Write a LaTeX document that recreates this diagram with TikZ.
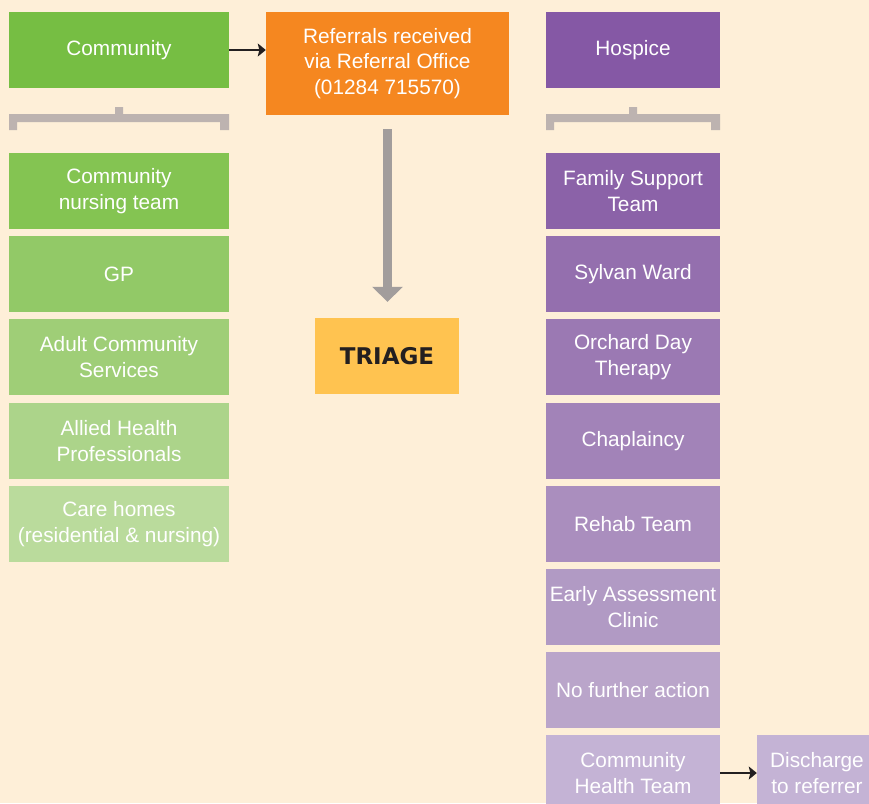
\documentclass[tikz,border=0pt]{standalone}
\usepackage{fontspec}
\setmainfont{Liberation Sans}
\newfontfamily\triagefont{DejaVu Sans}
\usetikzlibrary{arrows.meta}
\definecolor{bgc}{HTML}{FEEFD8}
\definecolor{gA}{HTML}{76BE43}
\definecolor{gB}{HTML}{84C452}
\definecolor{gC}{HTML}{92C967}
\definecolor{gD}{HTML}{9FCE77}
\definecolor{gE}{HTML}{ACD48A}
\definecolor{gF}{HTML}{BADB9C}
\definecolor{orng}{HTML}{F58720}
\definecolor{pA}{HTML}{8558A5}
\definecolor{pB}{HTML}{8B62A8}
\definecolor{pC}{HTML}{946FAE}
\definecolor{pD}{HTML}{9B79B3}
\definecolor{pE}{HTML}{A283B8}
\definecolor{pF}{HTML}{AA8EBE}
\definecolor{pG}{HTML}{B19AC4}
\definecolor{pH}{HTML}{BAA5CA}
\definecolor{pI}{HTML}{C4B3D5}
\definecolor{triyel}{HTML}{FFC350}
\definecolor{bigarrow}{HTML}{A29D9C}
\definecolor{brk}{HTML}{BDB3B0}
\definecolor{darktxt}{HTML}{231F20}
\tikzset{
  box/.style={draw=none, inner sep=0pt, align=center, text=white,
    font=\fontsize{20.8}{25.5}\selectfont},
  lbox/.style={box, minimum width=220pt, minimum height=76pt},
  rbox/.style={box, minimum width=174pt, minimum height=76pt},
  thinarrow/.style={draw=darktxt, line width=1.3pt, -{Stealth[length=8pt,width=13pt,inset=1.5pt]}},
  fatarrow/.style={draw=bigarrow, line width=8.7pt, -{Triangle[length=15pt,width=30pt]}},
  bracket/.style={fill=brk, draw=none}
}
\begin{document}
\begin{tikzpicture}[x=1pt,y=-1pt]
\clip (0,0) rectangle (869,803);
\fill[bgc] (0,0) rectangle (869,803);
% left column
\node[lbox, fill=gA] (comm) at (119,50) {Community};
\node[lbox, fill=gB] (cnt) at (119,191) {Community\\nursing team};
\node[lbox, fill=gC] (gp) at (119,274) {GP};
\node[lbox, fill=gD] (acs) at (119,357) {Adult Community\\Services};
\node[lbox, fill=gE] (ahp) at (119,441) {Allied Health\\Professionals};
\node[lbox, fill=gF] (care) at (119,524) {Care homes\\(residential \& nursing)};
% centre
\node[box, fill=orng, minimum width=243pt, minimum height=103pt] (ref) at (387.5,63.5) {Referrals received\\via Referral Office\\(01284 715570)};
\node[box, fill=triyel, minimum width=144pt, minimum height=76pt, text=darktxt,
      font=\triagefont\bfseries\fontsize{23}{27}\selectfont] (tri) at (387,356) {TRIAGE};
% right column
\node[rbox, fill=pA] (hos) at (633,50) {Hospice};
\node[rbox, fill=pB] (fst) at (633,191) {Family Support\\Team};
\node[rbox, fill=pC] (syl) at (633,274) {Sylvan Ward};
\node[rbox, fill=pD] (orc) at (633,357) {Orchard Day\\Therapy};
\node[rbox, fill=pE] (cha) at (633,441) {Chaplaincy};
\node[rbox, fill=pF] (reh) at (633,524) {Rehab Team};
\node[rbox, fill=pG] (eac) at (633,607) {Early Assessment\\Clinic};
\node[rbox, fill=pH] (nfa) at (633,690) {No further action};
\node[rbox, fill=pI] (cht) at (633,773) {Community\\Health Team};
\node[box, fill=pI, minimum width=120pt, minimum height=76pt] (dis) at (817,773) {Discharge\\to referrer};
% brackets
\fill[bracket] (9,114) rectangle (229,122) (115,107) rectangle (123,122)
  (9,114) rectangle (17,130) (220,114) rectangle (229,130);
\fill[bracket] (546,114) rectangle (720,122) (629,107) rectangle (637,122)
  (546,114) rectangle (554,130) (711,114) rectangle (720,130);
% connectors
\draw[thinarrow] (comm.east) -- (comm.east -| ref.west);
\draw[thinarrow] (cht.east) -- (cht.east -| dis.west);
\draw[fatarrow, shorten <=14pt, shorten >=16pt] (ref.south) -- (ref.south |- tri.north);
\end{tikzpicture}
\end{document}
